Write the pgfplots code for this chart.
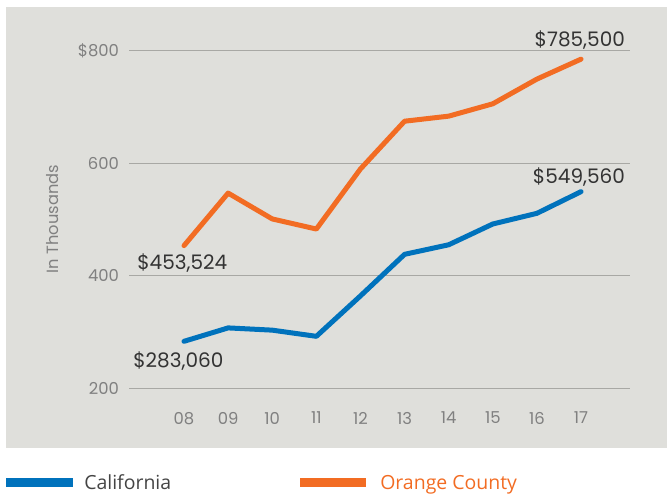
\documentclass[border=0pt]{standalone}
\usepackage{pgfplots}
\pgfplotsset{compat=1.18}
\usepackage{fontspec}
\setmainfont{Poppins}
\newfontfamily\legfont{Open Sans}
\definecolor{bg}{RGB}{223,223,219}
\definecolor{gridc}{RGB}{168,168,164}
\definecolor{tickc}{RGB}{128,128,128}
\definecolor{cablue}{RGB}{0,114,188}
\definecolor{ocorange}{RGB}{242,108,35}
\definecolor{txt}{RGB}{51,51,51}
\definecolor{legtxt}{RGB}{68,68,68}
\begin{document}
\begin{tikzpicture}[x=0.75pt,y=0.75pt]
\path[use as bounding box] (0,0) rectangle (667,493);
\fill[bg] (6,45) rectangle (667,486);
\begin{axis}[
  at={(96.75pt,78.75pt)}, anchor=south west,
  scale only axis, width=375.75pt, height=252.75pt,
  xmin=-1.247, xmax=10.11, ymin=200, ymax=800,
  clip=false,
  axis line style={draw=none},
  ytick={200,400,600,800}, yticklabels={200,400,600,\$800},
  xtick={0,...,9}, xticklabels={08,09,10,11,12,13,14,15,16,17},
  major tick style={draw=none},
  ymajorgrids, grid style={gridc, line width=0.75pt},
  ticklabel style={font=\fontsize{12.3}{14}\selectfont, text=tickc},
  yticklabel style={anchor=east, xshift=-4pt},
  xticklabel style={anchor=north, yshift=-14.5pt},
]
\addplot[ocorange, line width=3.75pt, line cap=round, line join=round] coordinates {
(0,453.5) (1,547) (2,501) (3,483) (4,590) (5,675) (6,684) (7,706) (8,750) (9,785.5)};
\addplot[cablue, line width=3.75pt, line cap=round, line join=round] coordinates {
(0,283.1) (1,307) (2,303) (3,292) (4,364) (5,438) (6,455) (7,492) (8,511) (9,549.6)};
\node[anchor=east, inner sep=0pt, text=txt, font=\fontsize{15}{17}\selectfont] at (axis cs:10,819.6) {\$785,500};
\node[anchor=east, inner sep=0pt, text=txt, font=\fontsize{15}{17}\selectfont] at (axis cs:10,575.7) {\$549,560};
\node[anchor=west, inner sep=0pt, text=txt, font=\fontsize{15}{17}\selectfont] at (axis cs:-1.066,422.6) {\$453,524};
\node[anchor=west, inner sep=0pt, text=txt, font=\fontsize{15}{17}\selectfont] at (axis cs:-1.156,248.1) {\$283,060};
\end{axis}
\node[rotate=90, inner sep=0pt, text=tickc, font=\fontsize{12.2}{14}\selectfont] at (53,274) {In Thousands};
\fill[cablue] (6,6) rectangle (73,15);
\node[anchor=base west, inner sep=0pt, text=legtxt, font=\legfont\fontsize{14.6}{17}\selectfont] at (84,4) {California};
\fill[ocorange] (300,6) rectangle (366,15);
\node[anchor=base west, inner sep=0pt, text=ocorange, font=\legfont\fontsize{14.6}{17}\selectfont] at (380,4) {Orange County};
\end{tikzpicture}
\end{document}
